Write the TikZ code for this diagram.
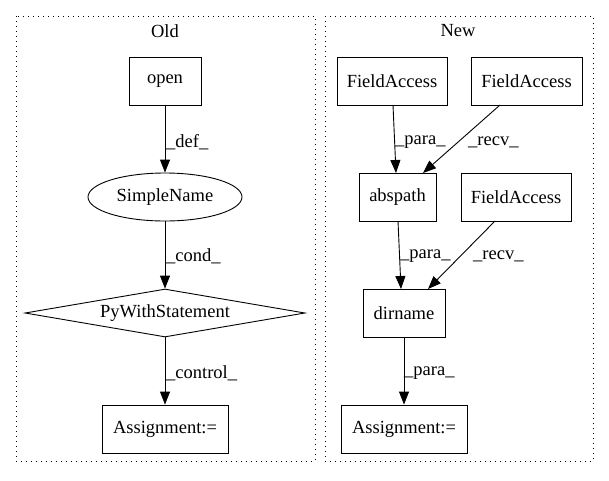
\documentclass[tikz,border=0pt]{standalone}
\usepackage{fontspec}
\setmainfont{Liberation Serif}
\usetikzlibrary{shapes.geometric,arrows.meta}
\begin{document}
\begin{tikzpicture}[x=1pt,y=-1pt,
  every node/.style={font=\fontsize{18.5}{20}\selectfont},
  box/.style={draw,line width=0.9pt,rectangle,inner sep=0pt,minimum height=48pt},
  ell/.style={draw,line width=0.9pt,ellipse,inner sep=0pt,minimum height=48pt,minimum width=154pt},
  dia/.style={draw,line width=0.9pt,diamond,inner sep=0pt,aspect=5.83,minimum height=48pt,minimum width=280pt},
  cluster/.style={draw,line width=1pt,dash pattern=on 1.3pt off 3.7pt},
  arr/.style={line width=0.9pt,-{Triangle[length=13pt,width=10pt]}},
  lbl/.style={inner sep=0pt,anchor=west}]
\useasboundingbox (0,0) rectangle (609,480);
\draw[cluster] (16,16) rectangle (315,461);
\draw[cluster] (325,16) rectangle (593,461);
\node (toldt) at (165,31) {Old};
\node (tnewt) at (458,31) {New};
% Old
\node[box,minimum width=72pt] (open) at (165,81) {open};
\node[ell] (sn) at (165,197) {SimpleName};
\node[dia] (pw) at (165,313) {PyWithStatement};
\node[box,minimum width=126pt] (aold) at (165,429) {Assignment:=};
\draw[arr] (open) -- (sn);
\draw[arr] (sn) -- (pw);
\draw[arr] (pw) -- (aold);
\node[lbl] (ldef) at (166,142) {\_def\_};
\node[lbl] (lcond) at (166,256) {\_cond\_};
\node[lbl] (lctrl) at (166,373) {\_control\_};
% New
\node[box,minimum width=110pt] (fa1) at (392,81) {FieldAccess};
\node[box,minimum width=111pt] (fa2) at (526.5,81) {FieldAccess};
\node[box,minimum width=77pt] (abs) at (397.5,197) {abspath};
\node[box,minimum width=110pt] (fa3) at (516,197) {FieldAccess};
\node[box,minimum width=82pt] (dir) at (404,313) {dirname};
\node[box,minimum width=126pt] (anew) at (404,429) {Assignment:=};
\coordinate (fa1s) at (393,105);
\coordinate (abs1) at (396,173);
\coordinate (fa2s) at (500,105);
\coordinate (abs2) at (423,173);
\coordinate (abss) at (398,221);
\coordinate (dir1) at (401,289);
\coordinate (fa3s) at (495,221);
\coordinate (dir2) at (428,289);
\draw[arr] (fa1s) -- (abs1);
\draw[arr] (fa2s) -- (abs2);
\draw[arr] (abss) -- (dir1);
\draw[arr] (fa3s) -- (dir2);
\draw[arr] (dir) -- (anew);
\node[lbl] (lp1) at (395,142) {\_para\_};
\node[lbl] (lr1) at (468,142) {\_recv\_};
\node[lbl] (lp2) at (400,256) {\_para\_};
\node[lbl] (lr2) at (473,256) {\_recv\_};
\node[lbl] (lp3) at (404,373) {\_para\_};
\end{tikzpicture}
\end{document}
